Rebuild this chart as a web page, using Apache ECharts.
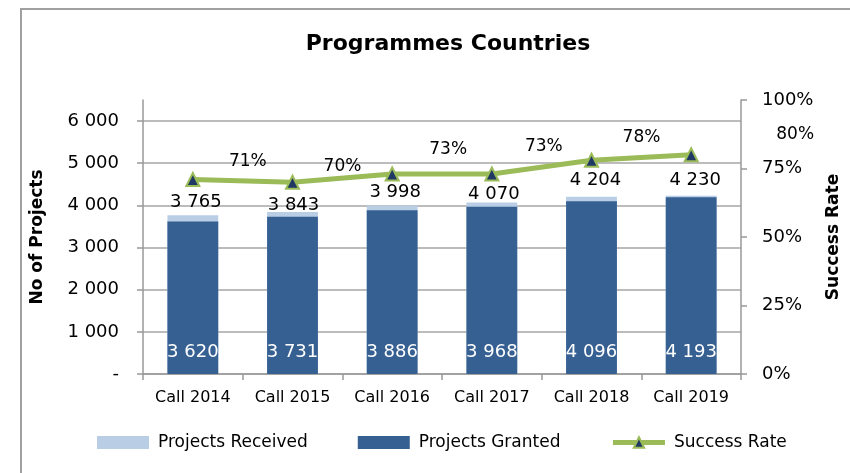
<!DOCTYPE html>
<html>
<head>
<meta charset="utf-8">
<script src="https://cdn.jsdelivr.net/npm/echarts@6/dist/echarts.min.js"></script>
<style>
  html, body { margin: 0; padding: 0; background: #fff; }
  #chart { width: 850px; height: 473px; }
</style>
</head>
<body>
<div id="chart"></div>
<script>
// data
var categories = ['Call 2014', 'Call 2015', 'Call 2016', 'Call 2017', 'Call 2018', 'Call 2019'];
var received = [3765, 3843, 3998, 4070, 4204, 4230];
var granted = [3620, 3731, 3886, 3968, 4096, 4193];
var successRate = [71, 70, 73, 73, 78, 80];
var countTicks = [0, 1000, 2000, 3000, 4000, 5000, 6000];

// label nudges (Excel placed these by hand)
var receivedLabelShift = [[3, 0], [1, 6], [3, 0], [2, 5], [4, -3], [4, -2]];
var rateLabelShift = [[55, -18], [50, -16], [56, -24], [52, -27], [50, -23], [104, -20]];

var font = '"DejaVu Sans", sans-serif';

function spaced(v) {
  if (v === 0) return '-';
  return String(v).replace(/\B(?=(\d{3})+(?!\d))/g, ' ');
}

var chart = echarts.init(document.getElementById('chart'));

var option = {
  backgroundColor: '#fff',
  animation: false,
  textStyle: { fontFamily: font },
  title: {
    text: 'Programmes Countries',
    left: 443,
    textAlign: 'center',
    top: 28,
    textStyle: { fontFamily: font, fontSize: 22, fontWeight: 'bold', color: '#000' }
  },
  graphic: [{
    type: 'rect',
    shape: { x: 21, y: 9, width: 900, height: 500 },
    style: { fill: 'none', stroke: '#a0a0a0', lineWidth: 2 },
    silent: true
  }],
  legend: {
    bottom: 17,
    left: 92,
    itemWidth: 52,
    itemHeight: 13,
    itemGap: 50,
    textStyle: { fontFamily: font, fontSize: 17, color: '#000', padding: [0, 0, 0, 4] },
    data: [
      { name: 'Projects Received', icon: 'rect' },
      { name: 'Projects Granted', icon: 'rect' },
      { name: 'Success Rate', lineStyle: { width: 5, color: '#9bbb59' } }
    ]
  },
  grid: { left: 143, right: 107, top: 100, bottom: 99 },
  xAxis: {
    type: 'category',
    data: categories,
    axisLine: { lineStyle: { color: '#999', width: 1.5 } },
    axisTick: { show: true, length: 6, lineStyle: { color: '#999', width: 1.5 } },
    axisLabel: { color: '#000', fontSize: 16, margin: 16, fontFamily: font }
  },
  yAxis: [
    {
      type: 'value',
      min: 0,
      max: 6500,
      interval: 1000,
      name: 'No of Projects',
      nameLocation: 'middle',
      nameRotate: 90,
      nameGap: 97,
      nameTextStyle: { fontFamily: font, fontSize: 17, fontWeight: 'bold', color: '#000' },
      axisLine: { show: true, lineStyle: { color: '#999', width: 1.5 } },
      axisTick: { show: true, length: 6, inside: false, customValues: countTicks, lineStyle: { color: '#999', width: 1.5 } },
      axisLabel: { customValues: countTicks, color: '#000', fontSize: 18, margin: 24, fontFamily: font, formatter: spaced },
      splitLine: { show: true, lineStyle: { color: '#a6a6a6', width: 1.5 } }
    },
    {
      type: 'value',
      min: 0,
      max: 100,
      interval: 25,
      name: 'Success Rate',
      nameLocation: 'middle',
      nameRotate: 90,
      nameGap: 84,
      nameTextStyle: { fontFamily: font, fontSize: 17, fontWeight: 'bold', color: '#000' },
      axisLine: { show: true, lineStyle: { color: '#999', width: 1.5 } },
      axisTick: { show: true, length: 6, lineStyle: { color: '#999', width: 1.5 } },
      axisLabel: { color: '#000', fontSize: 18, margin: 21, fontFamily: font, formatter: '{value}%' },
      splitLine: { show: false }
    }
  ],
  series: [
    {
      name: 'Projects Received',
      type: 'bar',
      barWidth: '51%',
      barGap: '-100%',
      itemStyle: { color: '#b9cde5' },
      data: received.map(function (v, i) {
        return {
          value: v,
          label: { offset: receivedLabelShift[i] }
        };
      }),
      label: {
        show: true,
        position: 'top',
        distance: 4,
        color: '#000',
        fontSize: 18,
        fontFamily: font,
        formatter: function (p) { return spaced(p.value); }
      }
    },
    {
      name: 'Projects Granted',
      type: 'bar',
      barWidth: '51%',
      itemStyle: { color: '#366092' },
      data: granted,
      label: {
        show: true,
        position: 'insideBottom',
        distance: 13,
        color: '#fff',
        fontSize: 18,
        fontFamily: font,
        formatter: function (p) { return spaced(p.value); }
      }
    },
    {
      name: 'Success Rate',
      type: 'line',
      yAxisIndex: 1,
      z: 5,
      symbol: 'triangle',
      symbolSize: 13,
      lineStyle: { color: '#9bbb59', width: 5 },
      itemStyle: { color: '#1f3864', borderColor: '#9bbb59', borderWidth: 2 },
      data: successRate.map(function (v, i) {
        return {
          value: v,
          label: { offset: rateLabelShift[i] }
        };
      }),
      label: {
        show: true,
        position: 'inside',
        color: '#000',
        fontSize: 17,
        fontFamily: font,
        formatter: '{c}%'
      }
    }
  ]
};

chart.setOption(option);
</script>
</body>
</html>
